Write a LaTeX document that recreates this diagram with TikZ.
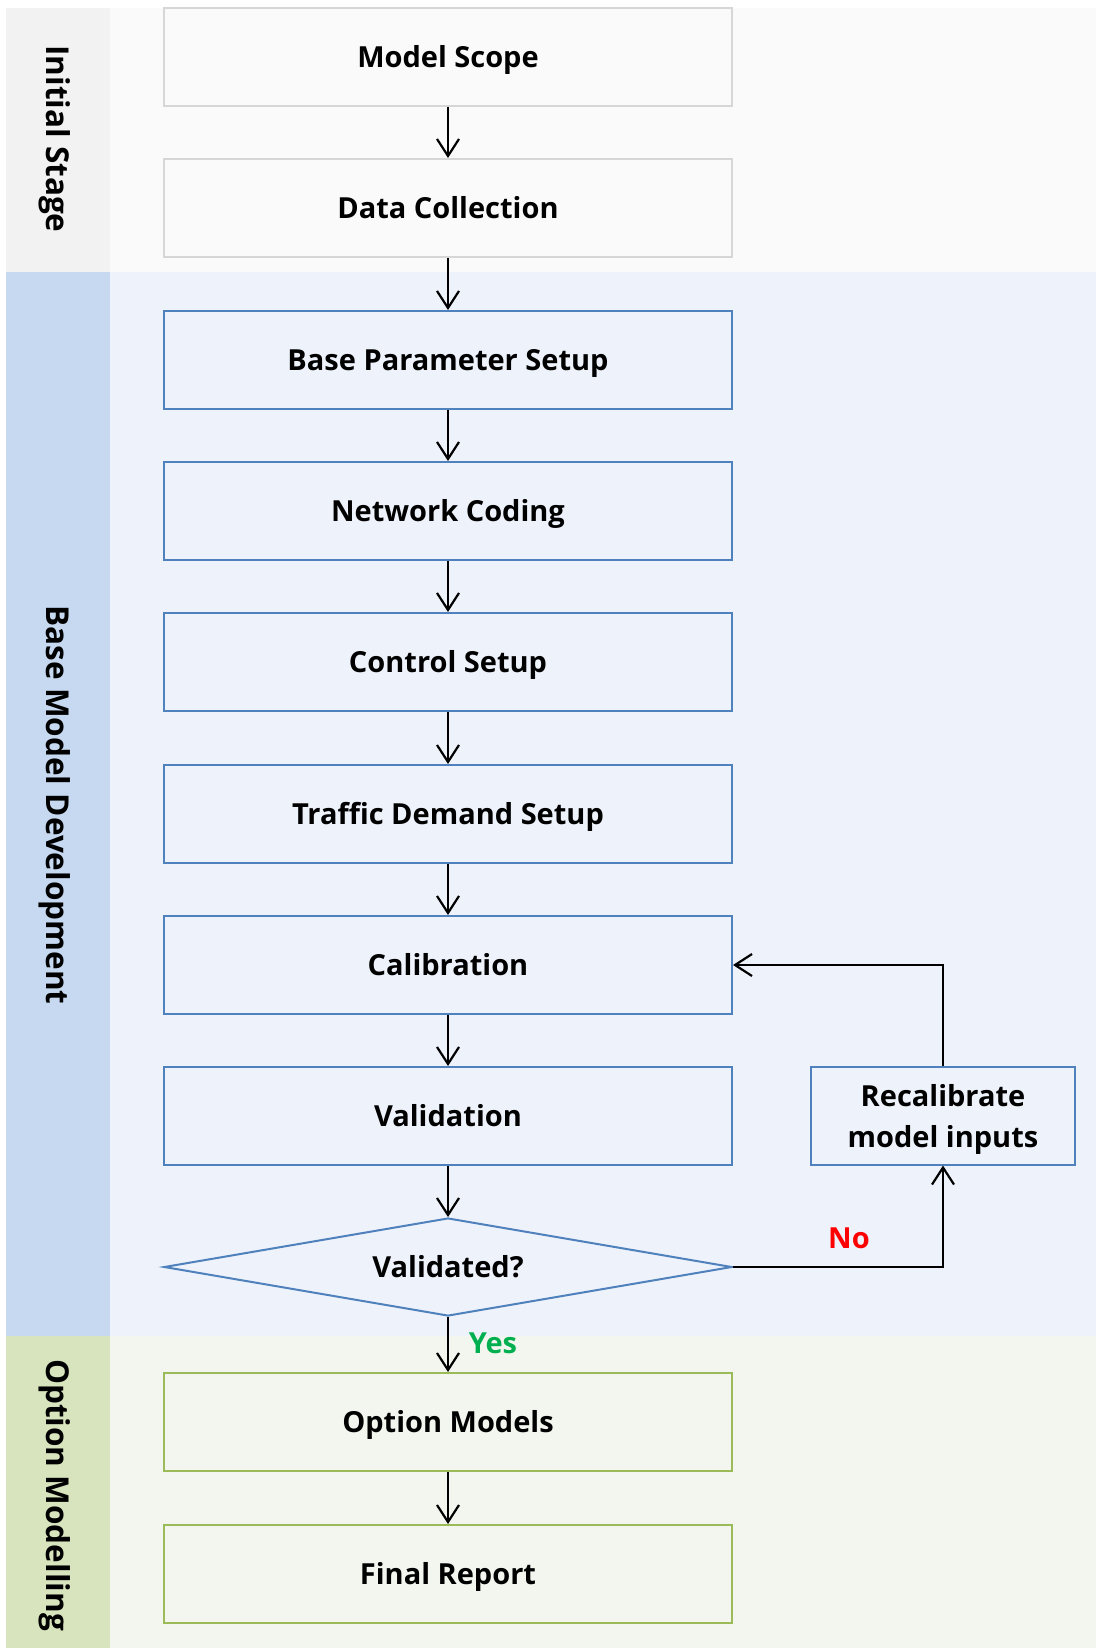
\documentclass[tikz,border=0pt]{standalone}
\usepackage{fontspec}
\setmainfont{Open Sans}
\usetikzlibrary{arrows.meta,shapes.geometric}
\definecolor{grayLab}{HTML}{F2F2F2}
\definecolor{grayBg}{HTML}{FAFAFA}
\definecolor{grayLine}{HTML}{D6D6D6}
\definecolor{blueLab}{HTML}{C6D9F1}
\definecolor{blueBg}{HTML}{EEF3FB}
\definecolor{blueLine}{HTML}{4F81BD}
\definecolor{greenLab}{HTML}{D7E4BD}
\definecolor{greenBg}{HTML}{F3F6EE}
\definecolor{greenLine}{HTML}{9BBB59}
\definecolor{yesGreen}{HTML}{00B050}
\tikzset{
  txt/.style={font=\fontsize{29}{41}\selectfont\bfseries, text=black, text height=22pt, text depth=0.6pt},
  box/.style={txt, draw, line width=2pt, minimum width=568pt, minimum height=98pt, inner sep=0pt},
  graybox/.style={box, draw=grayLine, fill=grayBg},
  bluebox/.style={box, draw=blueLine, fill=blueBg},
  greenbox/.style={box, draw=greenLine, fill=greenBg},
  lane/.style={font=\fontsize{31.5}{41}\selectfont\bfseries, text=black, text height=23pt, text depth=0.6pt, inner sep=0pt, rotate=-90},
  flow/.style={draw=black, line width=2.2pt, -{Straight Barb[length=17pt,width=22pt,line width=2.2pt]}},
}
\begin{document}
\begin{tikzpicture}[x=1pt,y=-1pt]
\useasboundingbox (0,0) rectangle (1096,1648);
\fill[white] (0,0) rectangle (1096,1648);
% bands
\fill[grayLab] (6,8) rectangle (110,272);
\fill[grayBg] (110,8) rectangle (1096,272);
\fill[blueLab] (6,272) rectangle (110,1336);
\fill[blueBg] (110,272) rectangle (1096,1336);
\fill[greenLab] (6,1336) rectangle (110,1648);
\fill[greenBg] (110,1336) rectangle (1096,1648);
% lane labels
\node[lane] (l1) at (58,139) {Initial Stage};
\node[lane] (l2) at (58,805) {Base Model Development};
\node[lane] (l3) at (58,1495) {Option Modelling};
% boxes
\node[graybox] (scope) at (448,57) {Model Scope};
\node[graybox] (data) at (448,208) {Data Collection};
\node[bluebox] (base) at (448,360) {Base Parameter Setup};
\node[bluebox] (net) at (448,511) {Network Coding};
\node[bluebox] (ctrl) at (448,662) {Control Setup};
\node[bluebox] (traf) at (448,814) {Traffic Demand Setup};
\node[bluebox] (cal) at (448,965) {Calibration};
\node[bluebox] (val) at (448,1116) {Validation};
\node[txt, diamond, draw=blueLine, fill=blueBg, line width=2pt, minimum width=568pt, minimum height=98pt, inner sep=0pt, aspect=5.8] (dec) at (448,1267) {Validated?};
\node[greenbox] (opt) at (448,1422) {Option Models};
\node[greenbox] (fin) at (448,1574) {Final Report};
\node[font=\fontsize{29}{41}\selectfont\bfseries, text=black, text depth=0pt, draw=blueLine, fill=blueBg, line width=2pt, minimum width=264pt, minimum height=98pt, inner sep=0pt, align=center] (rec) at (943,1115.5) {Recalibrate\\model inputs};
% flows
\draw[flow] (scope) -- (data);
\draw[flow] (data) -- (base);
\draw[flow] (base) -- (net);
\draw[flow] (net) -- (ctrl);
\draw[flow] (ctrl) -- (traf);
\draw[flow] (traf) -- (cal);
\draw[flow] (cal) -- (val);
\draw[flow] (val) -- (dec);
\draw[flow] (dec) -- (opt);
\draw[flow] (opt) -- (fin);
\draw[flow] (dec.east) -| (rec.south);
\draw[flow] (rec.north) |- (cal.east);
% labels
\node[txt, text=red] (no) at (849,1237.5) {No};
\node[txt, text=yesGreen] (yes) at (493,1343) {Yes};
\end{tikzpicture}
\end{document}
